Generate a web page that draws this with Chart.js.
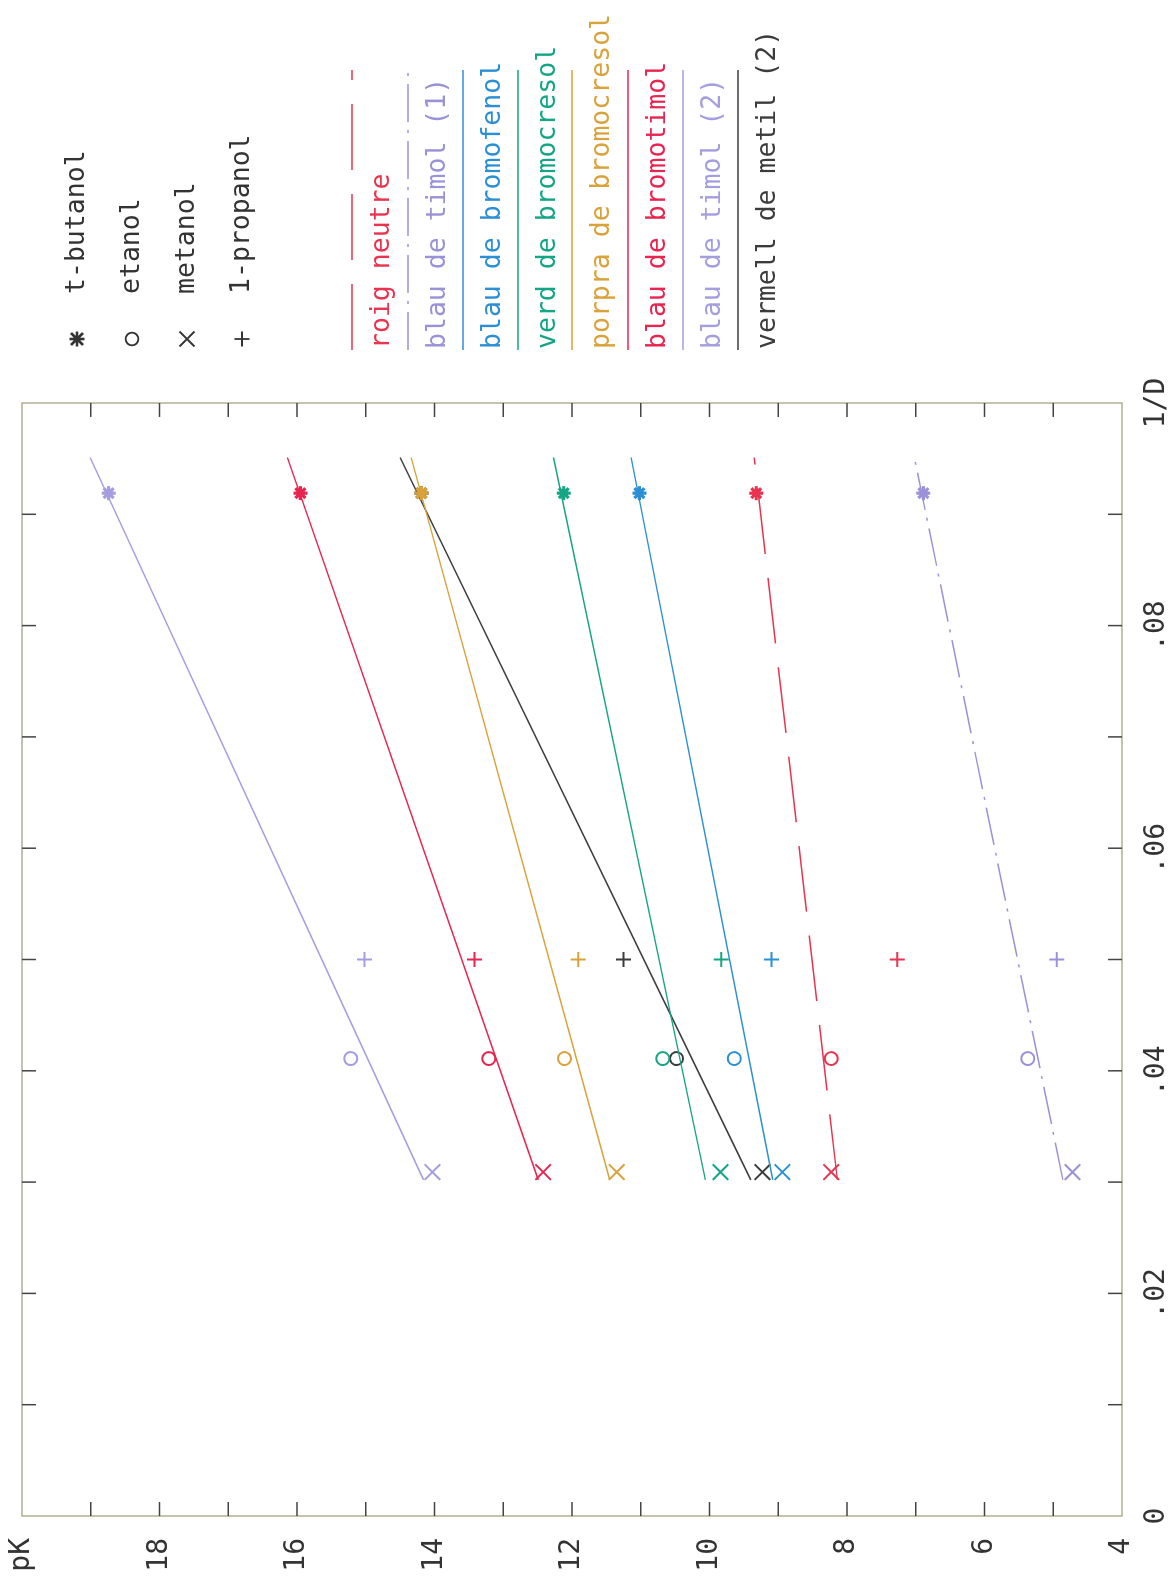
<!DOCTYPE html>
<html>
<head>
<meta charset="utf-8">
<script src="https://cdn.jsdelivr.net/npm/chart.js@4.4.1/dist/chart.umd.min.js"></script>
<style>
    html, body { margin: 0; padding: 0; background: #fff; overflow: hidden; }
    /* the plot is drawn upright and turned a quarter turn, like the plotter sheet */
    #wrap {
        position: absolute; left: 0; top: 0;
        width: 1588px; height: 1169px;
        transform-origin: 0 0;
        transform: translate(0px, 1588px) rotate(-90deg);
    }
</style>
</head>
<body>
<div id="wrap"><canvas id="pkChart" width="1588" height="1169"></canvas></div>
<script>
    // solvents: 1/D and marker
    const solvents = ['metanol', 'etanol', '1-propanol', 't-butanol'];
    const invD = [0.0309, 0.0411, 0.0500, 0.0919];
    const solventStyles = ['crossRot', 'circle', 'cross', 'star'];
    const solventRadius = [11, 6.5, 7.5, 7];
    const solventWidth = [2, 2, 2, 3.2];

    // indicators
    const indicators = ['roig neutre', 'blau de timol (1)', 'blau de bromofenol', 'verd de bromocresol',
        'porpra de bromocresol', 'blau de bromotimol', 'blau de timol (2)', 'vermell de metil (2)'];
    const colors = ['#e8344f', '#9a92d8', '#2b8fd6', '#14a584', '#d9a23a', '#e82450', '#a49ee0', '#3c3c3c'];
    const dashes = [[66, 24], [38, 8, 3, 8], [], [], [], [], [], []];

    // pK in metanol, etanol, 1-propanol, t-butanol
    const pkRoigNeutre = [8.23, 8.23, 7.27, 9.32];
    const pkTimol1 = [4.72, 5.37, 4.95, 6.89];
    const pkBromofenol = [8.94, 9.64, 9.10, 11.02];
    const pkVerd = [9.84, 10.68, 9.83, 12.12];
    const pkPorpra = [11.35, 12.11, 11.91, 14.19];
    const pkBromotimol = [12.42, 13.21, 13.42, 15.95];
    const pkTimol2 = [14.03, 15.22, 15.02, 18.74];
    const pkMetil = [9.23, 10.48, 11.25, 14.19];
    const pkValues = [pkRoigNeutre, pkTimol1, pkBromofenol, pkVerd, pkPorpra, pkBromotimol, pkTimol2, pkMetil];

    // straight lines as drawn on the plot: pK at lineFrom and lineTo
    const lineFrom = 0.0302;
    const lineTo = 0.0951;
    const lineStart = [8.14, 4.86, 9.08, 10.06, 11.45, 12.49, 14.16, 9.40];
    const lineEnd = [9.35, 7.02, 11.14, 12.27, 14.34, 16.14, 19.01, 14.50];

    // symbol legend
    const symbolNames = ['t-butanol', 'etanol', 'metanol', '1-propanol'];
    const symbolStyles = ['star', 'circle', 'crossRot', 'cross'];

    const fontFamily = "'DejaVu Sans Mono', monospace";
    const inkColor = '#333333';

    function drawSymbol(ctx, style, x, y, r) {
        ctx.beginPath();
        if (style === 'circle') {
            ctx.arc(x, y, r * 0.85, 0, Math.PI * 2);
        }
        if (style === 'cross' || style === 'star') {
            ctx.moveTo(x - r, y); ctx.lineTo(x + r, y);
            ctx.moveTo(x, y - r); ctx.lineTo(x, y + r);
        }
        if (style === 'crossRot' || style === 'star') {
            const d = style === 'star' ? r * 0.8 : r;
            ctx.moveTo(x - d, y - d); ctx.lineTo(x + d, y + d);
            ctx.moveTo(x - d, y + d); ctx.lineTo(x + d, y - d);
        }
        ctx.stroke();
    }

    const frame = {
        id: 'frame',
        beforeDatasetsDraw(chart) {
            const { ctx, chartArea: a, scales: { x, y } } = chart;
            const tl = 14;
            ctx.save();
            ctx.strokeStyle = '#9c9c78';
            ctx.lineWidth = 1.2;
            ctx.strokeRect(a.left, a.top, a.right - a.left, a.bottom - a.top);
            ctx.strokeStyle = '#444';
            ctx.lineWidth = 1.5;
            ctx.beginPath();
            for (let v = 1; v < 10; v++) {
                const px = x.getPixelForValue(v / 100);
                ctx.moveTo(px, a.bottom); ctx.lineTo(px, a.bottom - tl);
                ctx.moveTo(px, a.top); ctx.lineTo(px, a.top + tl);
            }
            for (let v = 5; v < 20; v++) {
                const py = y.getPixelForValue(v);
                ctx.moveTo(a.left, py); ctx.lineTo(a.left + tl, py);
                ctx.moveTo(a.right, py); ctx.lineTo(a.right - tl, py);
            }
            ctx.stroke();
            ctx.restore();
        }
    };

    const sideLegend = {
        id: 'sideLegend',
        afterDraw(chart) {
            const ctx = chart.ctx;
            ctx.save();
            ctx.textBaseline = 'middle';
            ctx.textAlign = 'left';
            ctx.font = '26.5px ' + fontFamily;

            // markers
            const rowsA = [77, 132, 187, 242];
            ctx.strokeStyle = inkColor;
            ctx.fillStyle = inkColor;
            for (let i = 0; i < symbolNames.length; i++) {
                ctx.lineWidth = symbolStyles[i] === 'star' ? 2.6 : 1.8;
                drawSymbol(ctx, symbolStyles[i], 1249, rowsA[i], 7.5);
                ctx.fillText(symbolNames[i], 1294, rowsA[i]);
            }

            // lines
            const rowsB = [352, 408, 463, 518, 572, 628, 683, 738];
            for (let i = 0; i < indicators.length; i++) {
                ctx.strokeStyle = colors[i];
                ctx.fillStyle = colors[i];
                ctx.lineWidth = 1.6;
                ctx.setLineDash(dashes[i]);
                ctx.beginPath();
                ctx.moveTo(1238, rowsB[i]);
                ctx.lineTo(1518, rowsB[i]);
                ctx.stroke();
                ctx.setLineDash([]);
                ctx.fillText(indicators[i], 1239, rowsB[i] + 30);
            }
            ctx.restore();
        }
    };

    const datasets = [];
    for (let i = 0; i < indicators.length; i++) {
        datasets.push({
            type: 'line',
            label: indicators[i],
            data: [{ x: lineFrom, y: lineStart[i] }, { x: lineTo, y: lineEnd[i] }],
            borderColor: colors[i],
            borderWidth: 1.5,
            borderDash: dashes[i],
            pointRadius: 0,
            fill: false
        });
        datasets.push({
            type: 'scatter',
            label: indicators[i] + ' punts',
            data: invD.map((d, j) => ({ x: d, y: pkValues[i][j] })),
            pointStyle: solventStyles,
            pointRadius: solventRadius,
            pointBorderWidth: solventWidth,
            borderColor: colors[i],
            backgroundColor: 'rgba(0,0,0,0)',
            showLine: false
        });
    }

    const chartCtx = document.getElementById('pkChart');

    const pkChart = new Chart(chartCtx, {
        type: 'scatter',
        data: { datasets: datasets },
        options: {
            responsive: false,
            animation: false,
            devicePixelRatio: 1,
            layout: { padding: { left: 0, top: 22, right: 403, bottom: 0 } },
            plugins: {
                legend: { display: false },
                tooltip: { enabled: false }
            },
            scales: {
                x: {
                    type: 'linear',
                    min: 0,
                    max: 0.1,
                    grid: { display: false, drawTicks: false },
                    border: { display: false },
                    ticks: {
                        stepSize: 0.02,
                        autoSkip: false,
                        maxRotation: 0,
                        padding: 18,
                        color: inkColor,
                        font: { family: fontFamily, size: 28 },
                        callback: (v) => {
                            if (Math.abs(v) < 1e-9) return '0';
                            if (Math.abs(v - 0.1) < 1e-9) return '1/D';
                            return v.toFixed(2).replace(/^0/, '');
                        }
                    },
                    afterFit: (s) => {
                        s.height = 47;
                        s.paddingLeft = 0;
                        s.paddingRight = 0;
                    }
                },
                y: {
                    type: 'linear',
                    min: 4,
                    max: 20,
                    grid: { display: false, drawTicks: false },
                    border: { display: false },
                    ticks: {
                        stepSize: 2,
                        autoSkip: false,
                        padding: 22,
                        color: inkColor,
                        font: { family: fontFamily, size: 28 },
                        callback: (v) => v === 20 ? 'pK' : String(v)
                    },
                    afterFit: (s) => {
                        s.width = 72;
                        s.paddingTop = 0;
                        s.paddingBottom = 0;
                    }
                }
            }
        },
        plugins: [frame, sideLegend]
    });
</script>
</body>
</html>
